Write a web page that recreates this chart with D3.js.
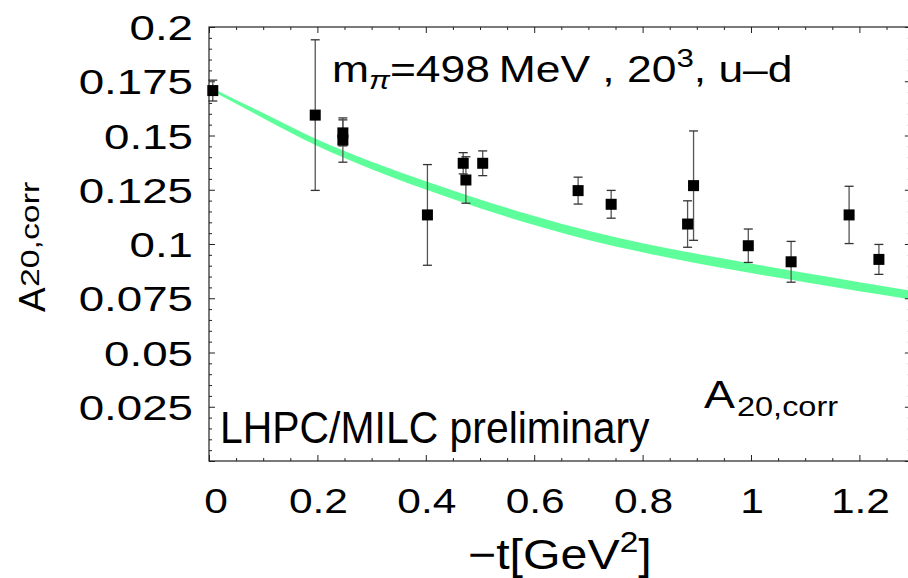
<!DOCTYPE html>
<html>
<head>
<meta charset="utf-8">
<script src="https://cdn.jsdelivr.net/npm/d3@7"></script>
<style>
  body { margin: 0; background: #fff; }
  text { font-family: "Liberation Sans", Arial, sans-serif; fill: #000; }
</style>
</head>
<body>
<div id="chart"></div>
<script>
// lattice points: -t [GeV^2], A20 value, error
var tVals = [0.007, 0.196, 0.247, 0.247, 0.403, 0.469, 0.474, 0.505, 0.681, 0.742, 0.883, 0.894, 0.995, 1.074, 1.181, 1.236];
var aVals = [0.1707, 0.1594, 0.1512, 0.1479, 0.1134, 0.1372, 0.1295, 0.1372, 0.1246, 0.1183, 0.1092, 0.1269, 0.0992, 0.0918, 0.1134, 0.0929];
var aErrs = [0.0048, 0.0347, 0.0060, 0.0102, 0.0232, 0.0049, 0.0107, 0.0057, 0.0062, 0.0064, 0.0107, 0.0252, 0.0077, 0.0094, 0.0132, 0.0069];

// green ChPT band
var bandT  = [0, 0.05, 0.1, 0.2, 0.3, 0.4, 0.5, 0.6, 0.7, 0.8, 0.9, 1.0, 1.1, 1.2, 1.3];
var bandLo = [0.1714, 0.1646, 0.1580, 0.1452, 0.1345, 0.1251, 0.1165, 0.1087, 0.1019, 0.0962, 0.0911, 0.0866, 0.0824, 0.0782, 0.0743];
var bandHi = [0.1726, 0.1664, 0.1604, 0.1482, 0.1379, 0.1289, 0.1205, 0.1129, 0.1061, 0.1004, 0.0955, 0.0910, 0.0866, 0.0824, 0.0783];

var xTicks = [0, 0.2, 0.4, 0.6, 0.8, 1, 1.2];
var xTickLabels = ["0", "0.2", "0.4", "0.6", "0.8", "1", "1.2"];
var yTicks = [0.025, 0.05, 0.075, 0.1, 0.125, 0.15, 0.175, 0.2];
var yTickLabels = ["0.025", "0.05", "0.075", "0.1", "0.125", "0.15", "0.175", "0.2"];

var width = 908, height = 578;
var xMax = 1.295;

var svg = d3.select("#chart").append("svg")
    .attr("width", width).attr("height", height);

var x = d3.scaleLinear().domain([0, 1]).range([209, 751]);
var y = d3.scaleLinear().domain([0, 0.2]).range([461, 27]);

// band
svg.append("clipPath").attr("id", "plotclip")
  .append("rect")
    .attr("x", x(0)).attr("y", y(0.2))
    .attr("width", x(xMax) - x(0)).attr("height", y(0) - y(0.2));

var area = d3.area()
    .x(function(d, i) { return x(bandT[i]); })
    .y0(function(d, i) { return y(bandLo[i]); })
    .y1(function(d, i) { return y(bandHi[i]); })
    .curve(d3.curveMonotoneX);

svg.append("path")
    .datum(bandT)
    .attr("clip-path", "url(#plotclip)")
    .attr("d", area)
    .attr("fill", "#5eff9a");

// frame
svg.append("rect")
    .attr("x", x(0)).attr("y", y(0.2))
    .attr("width", x(xMax) - x(0)).attr("height", y(0) - y(0.2))
    .attr("fill", "none").attr("stroke", "#222").attr("stroke-width", 1.2);

// ticks (inward, all four sides)
var xMinor = d3.range(0.05, xMax, 0.05).filter(function(v) { return Math.abs(v / 0.2 - Math.round(v / 0.2)) > 1e-6; });
var yMinor = d3.range(0.005, 0.2, 0.005).filter(function(v) { return Math.abs(v / 0.025 - Math.round(v / 0.025)) > 1e-6; });
var yMajorAll = [0].concat(yTicks);

function tickAxis(gen, scale, vals, size, tr) {
  var g = svg.append("g").attr("transform", tr)
    .call(gen(scale).tickValues(vals).tickSize(size).tickFormat(""));
  g.select(".domain").remove();
  g.selectAll(".tick line").attr("stroke", "#222").attr("stroke-width", 1);
}
tickAxis(d3.axisBottom, x, xTicks, -6, "translate(0," + y(0) + ")");
tickAxis(d3.axisBottom, x, xMinor, -3, "translate(0," + y(0) + ")");
tickAxis(d3.axisTop, x, xTicks, -6, "translate(0," + y(0.2) + ")");
tickAxis(d3.axisTop, x, xMinor, -3, "translate(0," + y(0.2) + ")");
tickAxis(d3.axisLeft, y, yMajorAll, -6, "translate(" + x(0) + ",0)");
tickAxis(d3.axisLeft, y, yMinor, -3, "translate(" + x(0) + ",0)");
tickAxis(d3.axisRight, y, yMajorAll, -6, "translate(" + x(xMax) + ",0)");
tickAxis(d3.axisRight, y, yMinor, -3, "translate(" + x(xMax) + ",0)");

// tick labels
svg.selectAll(".xlab").data(xTicks).enter().append("text")
    .attr("class", "xlab")
    .attr("text-anchor", "middle")
    .attr("font-size", 36)
    .attr("transform", function(d) { return "translate(" + (x(d) + (d === 0 ? 7 : 1)) + ",513) scale(1.18,1)"; })
    .text(function(d, i) { return xTickLabels[i]; });

svg.selectAll(".ylab").data(yTicks).enter().append("text")
    .attr("class", "ylab")
    .attr("text-anchor", "end")
    .attr("font-size", 36)
    .attr("transform", function(d) { return "translate(193," + (y(d) + 13) + ") scale(1.27,1)"; })
    .text(function(d, i) { return yTickLabels[i]; });

// error bars
var pts = svg.append("g");
tVals.forEach(function(t, i) {
  var cx = x(t), lo = y(aVals[i] - aErrs[i]), hi = y(aVals[i] + aErrs[i]);
  pts.append("line").attr("x1", cx).attr("x2", cx).attr("y1", lo).attr("y2", hi)
      .attr("stroke", "#555").attr("stroke-width", 1.3);
  [lo, hi].forEach(function(v) {
    pts.append("line").attr("x1", cx - 4.5).attr("x2", cx + 4.5).attr("y1", v).attr("y2", v)
        .attr("stroke", "#333").attr("stroke-width", 1.3);
  });
});
pts.selectAll("rect").data(tVals).enter().append("rect")
    .attr("x", function(d) { return x(d) - 5.5; })
    .attr("y", function(d, i) { return y(aVals[i]) - 5.5; })
    .attr("width", 11).attr("height", 11)
    .attr("fill", "#000");

// top label
var t1 = svg.append("text").attr("font-size", 37)
    .attr("transform", "translate(332,82) scale(1.2,1)");
t1.append("tspan").text("m");
t1.append("tspan").attr("font-size", 26).attr("font-style", "italic").attr("dy", 7).text("\u03c0");
t1.append("tspan").attr("dy", -7).text("=498\u2009MeV , 20");
t1.append("tspan").attr("font-size", 26).attr("dy", -15).text("3");
t1.append("tspan").attr("dy", 15).text(", u\u2013d");

// labels inside the frame
svg.append("text").attr("font-size", 44)
    .attr("transform", "translate(220,443) scale(0.93,1)")
    .text("LHPC/MILC preliminary");

svg.append("text").attr("font-size", 38)
    .attr("transform", "translate(704,408) scale(1.22,1)")
    .text("A");
svg.append("text").attr("font-size", 28)
    .attr("transform", "translate(737,416) scale(1.16,1)")
    .text("20,corr");

// axis titles
var xt = svg.append("text").attr("font-size", 42)
    .attr("transform", "translate(468,569) scale(1.15,1)");
xt.append("tspan").text("\u2212t[GeV");
xt.append("tspan").attr("font-size", 29).attr("dy", -17).text("2");
xt.append("tspan").attr("dy", 17).text("]");

svg.append("text").attr("font-size", 37)
    .attr("transform", "translate(45,312) rotate(-90)")
    .text("A");
svg.append("text").attr("font-size", 26)
    .attr("transform", "translate(39,287) rotate(-90) scale(1.3,1)")
    .text("20,corr");
</script>
</body>
</html>
